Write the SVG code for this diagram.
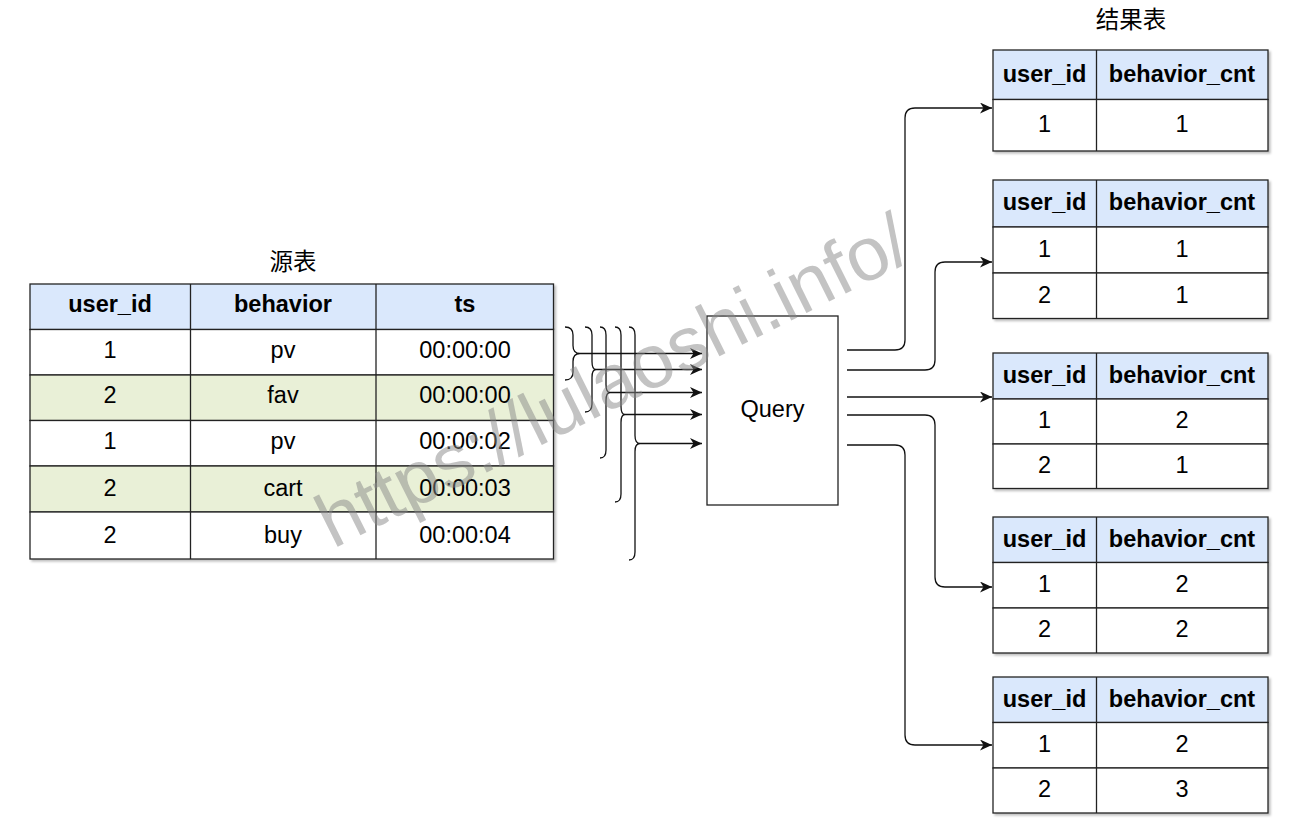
<svg xmlns="http://www.w3.org/2000/svg" width="1300" height="839" viewBox="0 0 1300 839">
<defs>
<style>
.cell{stroke:#222;stroke-width:1.3;}
.hd{fill:#dae8fc;}
.wh{fill:#ffffff;}
.gr{fill:#e9f0d7;}
.t{font-family:"Liberation Sans",Arial,Helvetica,sans-serif;font-size:23.5px;fill:#000;text-anchor:middle;}
.b{font-weight:bold;}
.cjk{font-family:"Liberation Sans","Noto Sans CJK SC",sans-serif;font-size:23.5px;fill:#000;text-anchor:middle;}
.ln{fill:none;stroke:#111;stroke-width:1.3;}
.wm{font-family:"Liberation Sans",Arial,Helvetica,sans-serif;font-size:76px;fill:#888;fill-opacity:0.5;}
</style>
<marker id="arr" markerUnits="userSpaceOnUse" markerWidth="13" markerHeight="11" refX="12" refY="5.5" orient="auto">
<path d="M0,0 L12,5.5 L0,11 L3.5,5.5 z" fill="#111"/>
</marker>
<filter id="sh" x="-5%" y="-5%" width="110%" height="115%">
<feDropShadow dx="2" dy="2" stdDeviation="1" flood-color="#000" flood-opacity="0.25"/>
</filter>
</defs>
<rect width="1300" height="839" fill="#fff"/>

<g id="source-title"><text class="cjk" x="293" y="270">源表</text></g>
<g id="source-table" filter="url(#sh)">
<rect class="cell hd" x="30" y="284" width="523.5" height="45.5"/>
<rect class="cell wh" x="30" y="329.5" width="523.5" height="45.5"/>
<rect class="cell gr" x="30" y="375" width="523.5" height="45.5"/>
<rect class="cell wh" x="30" y="420.5" width="523.5" height="45.5"/>
<rect class="cell gr" x="30" y="466" width="523.5" height="46"/>
<rect class="cell wh" x="30" y="512" width="523.5" height="47"/>
<line class="cell" x1="190.5" y1="284" x2="190.5" y2="559"/>
<line class="cell" x1="376" y1="284" x2="376" y2="559"/>
</g>
<g id="source-text">
<text class="t b" x="110" y="311.5">user_id</text>
<text class="t b" x="283" y="311.5">behavior</text>
<text class="t b" x="465" y="311.5">ts</text>
<text class="t" x="110" y="357.5">1</text><text class="t" x="283" y="357.5">pv</text><text class="t" x="465" y="357.5">00:00:00</text>
<text class="t" x="110" y="403">2</text><text class="t" x="283" y="403">fav</text><text class="t" x="465" y="403">00:00:00</text>
<text class="t" x="110" y="449">1</text><text class="t" x="283" y="449">pv</text><text class="t" x="465" y="449">00:00:02</text>
<text class="t" x="110" y="496">2</text><text class="t" x="283" y="496">cart</text><text class="t" x="465" y="496">00:00:03</text>
<text class="t" x="110" y="543">2</text><text class="t" x="283" y="543">buy</text><text class="t" x="465" y="543">00:00:04</text>
</g>

<g id="braces">
<path class="ln" d="M565,327 Q573,327 573,335 L573,345.5 Q573,353.5 580,353.5 Q573,353.5 573,361.5 L573,372 Q573,380 565,380"/>
<path class="ln" d="M585,327 Q592,327 592,335 L592,361.5 Q592,369.5 596,369.5 Q592,369.5 592,377.5 L592,404 Q592,412 585,412"/>
<path class="ln" d="M600,327 Q606,327 606,335 L606,384.5 Q606,392.5 610,392.5 Q606,392.5 606,400.5 L606,450 Q606,458 600,458"/>
<path class="ln" d="M615,327 Q621,327 621,335 L621,406.5 Q621,414.5 625,414.5 Q621,414.5 621,422.5 L621,494 Q621,502 615,502"/>
<path class="ln" d="M629,327 Q635,327 635,335 L635,435.5 Q635,443.5 640,443.5 Q635,443.5 635,451.5 L635,552 Q635,560 629,560"/>
</g>

<g id="query">
<rect x="707" y="316" width="131" height="189" fill="#fff" stroke="#222" stroke-width="1.3"/>
<text class="t" x="772.5" y="417">Query</text>
</g>

<g id="connectors">
<path class="ln" marker-end="url(#arr)" d="M580,353.5 L702,353.5"/>
<path class="ln" marker-end="url(#arr)" d="M596,369.5 L702,369.5"/>
<path class="ln" marker-end="url(#arr)" d="M610,392.5 L702,392.5"/>
<path class="ln" marker-end="url(#arr)" d="M625,414.5 L702,414.5"/>
<path class="ln" marker-end="url(#arr)" d="M640,443.5 L702,443.5"/>
<path class="ln" marker-end="url(#arr)" d="M847,350 L895,350 Q905,350 905,340 L905,118 Q905,108 915,108 L992,108"/>
<path class="ln" marker-end="url(#arr)" d="M847,370 L925,370 Q935,370 935,360 L935,272 Q935,262 945,262 L992,262"/>
<path class="ln" marker-end="url(#arr)" d="M847,397 L992,397"/>
<path class="ln" marker-end="url(#arr)" d="M847,415 L925,415 Q935,415 935,425 L935,577 Q935,587 945,587 L992,587"/>
<path class="ln" marker-end="url(#arr)" d="M847,445 L895,445 Q905,445 905,455 L905,735 Q905,745 915,745 L992,745"/>
</g>

<g id="result-title"><text class="cjk" x="1131" y="28">结果表</text></g>

<g id="result-1">
<g filter="url(#sh)">
<rect class="cell hd" x="993" y="50" width="275" height="49.5"/>
<rect class="cell wh" x="993" y="99.5" width="275" height="51.5"/>
<line class="cell" x1="1096.5" y1="50" x2="1096.5" y2="151"/>
</g>
<text class="t b" x="1044.5" y="81.5">user_id</text><text class="t b" x="1182" y="81.5">behavior_cnt</text>
<text class="t" x="1044.5" y="132">1</text><text class="t" x="1182" y="132">1</text>
</g>

<g id="result-2">
<g filter="url(#sh)">
<rect class="cell hd" x="993" y="180" width="275" height="47"/>
<rect class="cell wh" x="993" y="227" width="275" height="46"/>
<rect class="cell wh" x="993" y="273" width="275" height="45.5"/>
<line class="cell" x1="1096.5" y1="180" x2="1096.5" y2="318.5"/>
</g>
<text class="t b" x="1044.5" y="210">user_id</text><text class="t b" x="1182" y="210">behavior_cnt</text>
<text class="t" x="1044.5" y="257">1</text><text class="t" x="1182" y="257">1</text>
<text class="t" x="1044.5" y="303">2</text><text class="t" x="1182" y="303">1</text>
</g>

<g id="result-3">
<g filter="url(#sh)">
<rect class="cell hd" x="993" y="353" width="275" height="46"/>
<rect class="cell wh" x="993" y="399" width="275" height="45"/>
<rect class="cell wh" x="993" y="444" width="275" height="44.5"/>
<line class="cell" x1="1096.5" y1="353" x2="1096.5" y2="488.5"/>
</g>
<text class="t b" x="1044.5" y="382.5">user_id</text><text class="t b" x="1182" y="382.5">behavior_cnt</text>
<text class="t" x="1044.5" y="428">1</text><text class="t" x="1182" y="428">2</text>
<text class="t" x="1044.5" y="473">2</text><text class="t" x="1182" y="473">1</text>
</g>

<g id="result-4">
<g filter="url(#sh)">
<rect class="cell hd" x="993" y="517" width="275" height="45.5"/>
<rect class="cell wh" x="993" y="562.5" width="275" height="45.5"/>
<rect class="cell wh" x="993" y="608" width="275" height="45"/>
<line class="cell" x1="1096.5" y1="517" x2="1096.5" y2="653"/>
</g>
<text class="t b" x="1044.5" y="546.5">user_id</text><text class="t b" x="1182" y="546.5">behavior_cnt</text>
<text class="t" x="1044.5" y="592">1</text><text class="t" x="1182" y="592">2</text>
<text class="t" x="1044.5" y="637">2</text><text class="t" x="1182" y="637">2</text>
</g>

<g id="result-5">
<g filter="url(#sh)">
<rect class="cell hd" x="993" y="677" width="275" height="45.5"/>
<rect class="cell wh" x="993" y="722.5" width="275" height="45.5"/>
<rect class="cell wh" x="993" y="768" width="275" height="45"/>
<line class="cell" x1="1096.5" y1="677" x2="1096.5" y2="813"/>
</g>
<text class="t b" x="1044.5" y="706.5">user_id</text><text class="t b" x="1182" y="706.5">behavior_cnt</text>
<text class="t" x="1044.5" y="752">1</text><text class="t" x="1182" y="752">2</text>
<text class="t" x="1044.5" y="797">2</text><text class="t" x="1182" y="797">3</text>
</g>

<g id="watermark">
<text class="wm" x="333" y="549" transform="rotate(-26.5 333 549)">https://lulaoshi.info/</text>
</g>
</svg>
